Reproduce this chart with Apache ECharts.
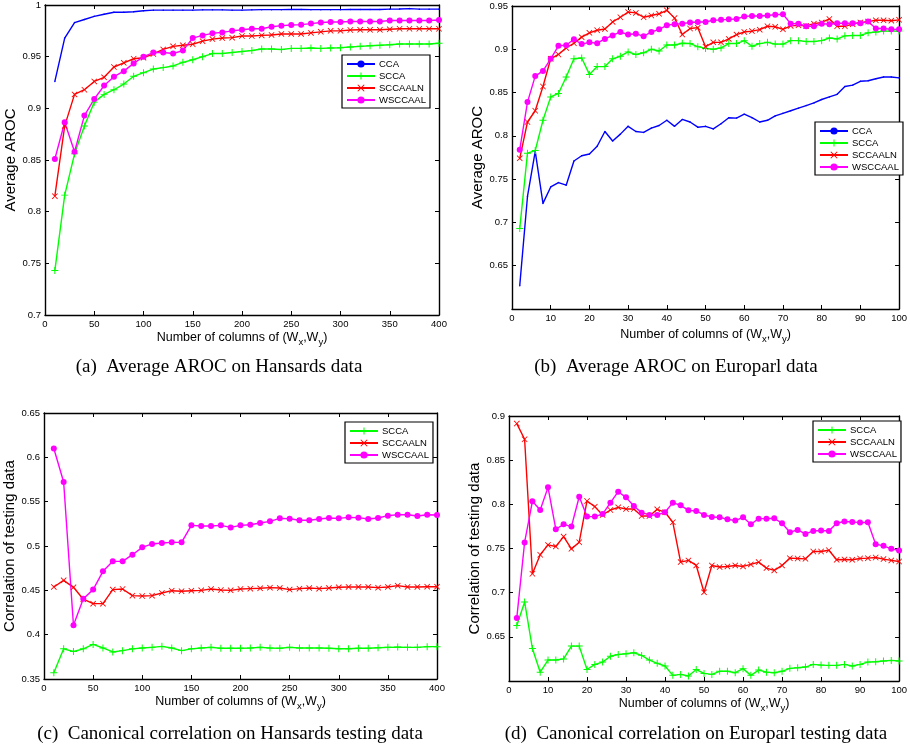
<!DOCTYPE html>
<html>
<head>
<meta charset="UTF-8">
<script src="https://cdn.jsdelivr.net/npm/echarts@6/dist/echarts.min.js"></script>
<style>
  html, body { margin: 0; padding: 0; background: #fff; }
  #c { width: 910px; height: 749px; }
</style>
</head>
<body>
<div id="c"></div>
<script>
// x values
const xHans = [10, 20, 30, 40, 50, 60, 70, 80, 90, 100, 110, 120, 130, 140, 150, 160, 170, 180, 190, 200,
  210, 220, 230, 240, 250, 260, 270, 280, 290, 300, 310, 320, 330, 340, 350, 360, 370, 380, 390, 400];
const xEuro = [2, 4, 6, 8, 10, 12, 14, 16, 18, 20, 22, 24, 26, 28, 30, 32, 34, 36, 38, 40,
  42, 44, 46, 48, 50, 52, 54, 56, 58, 60, 62, 64, 66, 68, 70, 72, 74, 76, 78, 80,
  82, 84, 86, 88, 90, 92, 94, 96, 98, 100];

// (a) Average AROC, Hansards
const hansCCA = [0.926, 0.968, 0.983, 0.986, 0.989, 0.991, 0.993, 0.993, 0.9935, 0.9945,
  0.995, 0.995, 0.995, 0.995, 0.995, 0.9953, 0.9953, 0.9953, 0.995, 0.995,
  0.9953, 0.9955, 0.9955, 0.9955, 0.9957, 0.9957, 0.9955, 0.9955, 0.9955, 0.9955,
  0.9957, 0.9957, 0.9957, 0.9957, 0.996, 0.9962, 0.9965, 0.996, 0.996, 0.996];
const hansSCCA = [0.743, 0.816, 0.856, 0.883, 0.906, 0.9135, 0.918, 0.9235, 0.931, 0.9345,
  0.938, 0.9394, 0.941, 0.9445, 0.947, 0.950, 0.953, 0.953, 0.954, 0.955,
  0.956, 0.9574, 0.9574, 0.957, 0.958, 0.958, 0.9584, 0.958, 0.9584, 0.9587,
  0.9594, 0.960, 0.9606, 0.961, 0.9616, 0.9623, 0.9623, 0.9623, 0.9623, 0.963];
const hansALN = [0.815, 0.883, 0.9135, 0.918, 0.926, 0.930, 0.940, 0.944, 0.948, 0.949,
  0.9526, 0.957, 0.960, 0.961, 0.962, 0.965, 0.967, 0.968, 0.9684, 0.970,
  0.970, 0.9706, 0.971, 0.972, 0.972, 0.972, 0.973, 0.974, 0.975, 0.975,
  0.9758, 0.976, 0.976, 0.976, 0.9765, 0.977, 0.977, 0.977, 0.977, 0.977];
const hansW = [0.851, 0.8865, 0.858, 0.893, 0.909, 0.922, 0.9306, 0.936, 0.9435, 0.950,
  0.954, 0.954, 0.953, 0.956, 0.968, 0.9706, 0.9726, 0.9735, 0.975, 0.976,
  0.977, 0.977, 0.979, 0.980, 0.9806, 0.981, 0.982, 0.983, 0.9835, 0.9835,
  0.984, 0.984, 0.984, 0.984, 0.985, 0.985, 0.985, 0.985, 0.985, 0.9855];

// (b) Average AROC, Europarl
const euroCCA = [0.627, 0.730, 0.782, 0.722, 0.741, 0.746, 0.743, 0.771, 0.777, 0.779,
  0.788, 0.805, 0.794, 0.802, 0.811, 0.805, 0.804, 0.809, 0.812, 0.818,
  0.811, 0.819, 0.816, 0.810, 0.811, 0.808, 0.814, 0.821, 0.8205, 0.825,
  0.821, 0.816, 0.818, 0.823, 0.826, 0.829, 0.832, 0.835, 0.838, 0.842,
  0.845, 0.848, 0.857, 0.8586, 0.863, 0.8636, 0.866, 0.868, 0.868, 0.867];
const euroSCCA = [0.693, 0.780, 0.783, 0.818, 0.845, 0.849, 0.868, 0.889, 0.890, 0.871,
  0.880, 0.880, 0.889, 0.892, 0.897, 0.894, 0.896, 0.900, 0.898, 0.905,
  0.905, 0.907, 0.9066, 0.903, 0.901, 0.900, 0.9016, 0.9066, 0.9066, 0.910,
  0.9035, 0.9066, 0.908, 0.906, 0.906, 0.910, 0.910, 0.909, 0.909, 0.910,
  0.913, 0.912, 0.9155, 0.916, 0.916, 0.919, 0.920, 0.921, 0.921, 0.921];
const euroALN = [0.774, 0.816, 0.829, 0.857, 0.889, 0.894, 0.9016, 0.907, 0.914, 0.919,
  0.922, 0.9235, 0.9316, 0.937, 0.943, 0.942, 0.937, 0.939, 0.941, 0.945,
  0.936, 0.917, 0.924, 0.925, 0.903, 0.908, 0.908, 0.912, 0.917, 0.920,
  0.921, 0.9227, 0.9266, 0.926, 0.923, 0.927, 0.9277, 0.927, 0.9296, 0.931,
  0.935, 0.9266, 0.9266, 0.929, 0.931, 0.932, 0.9335, 0.9335, 0.933, 0.934];
const euroW = [0.784, 0.839, 0.869, 0.875, 0.889, 0.904, 0.9047, 0.9116, 0.906, 0.908,
  0.907, 0.912, 0.916, 0.920, 0.917, 0.918, 0.915, 0.920, 0.923, 0.9277,
  0.929, 0.9296, 0.931, 0.9316, 0.9316, 0.9335, 0.934, 0.9346, 0.935, 0.938,
  0.9385, 0.9385, 0.939, 0.940, 0.9404, 0.9296, 0.9296, 0.9266, 0.9266, 0.9296,
  0.929, 0.930, 0.930, 0.930, 0.930, 0.932, 0.924, 0.924, 0.923, 0.923];

// (c) correlation of testing data, Hansards
const hansTestSCCA = [0.357, 0.384, 0.381, 0.384, 0.389, 0.385, 0.3805, 0.382, 0.384, 0.385,
  0.3857, 0.3868, 0.385, 0.382, 0.384, 0.385, 0.3857, 0.3846, 0.3846, 0.3846,
  0.385, 0.3857, 0.385, 0.3846, 0.3857, 0.385, 0.385, 0.385, 0.3846, 0.3842,
  0.3842, 0.3846, 0.3846, 0.3853, 0.3857, 0.386, 0.3857, 0.3857, 0.3865, 0.3865];
const hansTestALN = [0.4538, 0.4613, 0.4534, 0.440, 0.435, 0.435, 0.4508, 0.4515, 0.444, 0.4436,
  0.444, 0.447, 0.4496, 0.449, 0.4496, 0.450, 0.4515, 0.4504, 0.450, 0.4515,
  0.4519, 0.4523, 0.453, 0.4526, 0.4508, 0.4519, 0.4526, 0.4519, 0.4526, 0.4534,
  0.4538, 0.4538, 0.4538, 0.453, 0.4538, 0.4553, 0.4538, 0.4538, 0.4541, 0.4541];
const hansTestW = [0.610, 0.5722, 0.4105, 0.4406, 0.4508, 0.4714, 0.4827, 0.4827, 0.4902, 0.4985,
  0.5023, 0.5034, 0.5041, 0.5041, 0.5233, 0.5226, 0.5226, 0.5233, 0.521, 0.5233,
  0.524, 0.526, 0.5278, 0.5312, 0.5308, 0.529, 0.529, 0.5305, 0.5316, 0.5312,
  0.5323, 0.532, 0.5305, 0.5316, 0.5342, 0.5353, 0.5353, 0.5338, 0.5353, 0.535];

// (d) correlation of testing data, Europarl
const euroTestSCCA = [0.6628, 0.6895, 0.6368, 0.610, 0.6237, 0.6237, 0.625, 0.6395, 0.6395, 0.613,
  0.6188, 0.6214, 0.628, 0.630, 0.6308, 0.632, 0.629, 0.6237, 0.620, 0.617,
  0.6064, 0.6075, 0.6056, 0.613, 0.6086, 0.6075, 0.611, 0.611, 0.6094, 0.614,
  0.6064, 0.6124, 0.610, 0.6094, 0.611, 0.6143, 0.615, 0.6158, 0.6188, 0.618,
  0.6177, 0.6177, 0.6188, 0.617, 0.6188, 0.6214, 0.6218, 0.6226, 0.6233, 0.6226];
const euroTestALN = [0.8914, 0.8737, 0.7214, 0.7429, 0.7541, 0.7523, 0.7635, 0.7496, 0.7571, 0.8038,
  0.7974, 0.788, 0.7936, 0.7966, 0.7947, 0.7947, 0.7868, 0.7868, 0.7944, 0.791,
  0.7797, 0.7346, 0.7365, 0.7308, 0.7004, 0.7308, 0.729, 0.7297, 0.7308, 0.7297,
  0.732, 0.7346, 0.7278, 0.7252, 0.7308, 0.7391, 0.7387, 0.7383, 0.7466, 0.7466,
  0.748, 0.7372, 0.7376, 0.7372, 0.7387, 0.7391, 0.7398, 0.738, 0.7365, 0.7353];
const euroTestW = [0.6714, 0.7568, 0.8034, 0.7936, 0.8192, 0.7718, 0.7774, 0.7748, 0.8086, 0.7861,
  0.7861, 0.789, 0.8019, 0.8143, 0.8079, 0.7981, 0.7906, 0.788, 0.788, 0.791,
  0.8019, 0.7989, 0.7932, 0.7925, 0.788, 0.7857, 0.7853, 0.7831, 0.7816, 0.7853,
  0.7774, 0.7838, 0.7838, 0.7842, 0.7786, 0.7684, 0.771, 0.7665, 0.7699, 0.7703,
  0.7699, 0.7786, 0.7805, 0.7801, 0.7793, 0.7797, 0.7549, 0.753, 0.7496, 0.7477];

const captions = [
  '(a)\u00a0 Average AROC on Hansards data',
  '(b)\u00a0 Average AROC on Europarl data',
  '(c)\u00a0 Canonical correlation on Hansards testing data',
  '(d)\u00a0 Canonical correlation on Europarl testing data'
];

const SANS = 'Liberation Sans';
const SERIF = 'Liberation Serif';

// matlab-ish markers
const PLUS = 'path://M4.3,0H5.7V4.3H10V5.7H5.7V10H4.3V5.7H0V4.3H4.3Z';
const CROSS = 'path://M0,1L1,0L5,4L9,0L10,1L6,5L10,9L9,10L5,6L1,10L0,9L4,5Z';

const styles = {
  CCA: { color: '#0000ff', symbol: 'circle', symbolSize: 1.5 },
  SCCA: { color: '#00ff00', symbol: PLUS, symbolSize: 7 },
  SCCAALN: { color: '#ff0000', symbol: CROSS, symbolSize: 6 },
  WSCCAAL: { color: '#ff00ff', symbol: 'circle', symbolSize: 6 }
};

const panels = [
  { grid: { left: 45, top: 5, width: 394, height: 310 }, x: xHans, xMax: 400, xInt: 50,
    yMin: 0.7, yMax: 1, yInt: 0.05, hideMin: false, yName: 'Average AROC', yGap: 22, xGap: 13,
    lines: [['CCA', hansCCA], ['SCCA', hansSCCA], ['SCCAALN', hansALN], ['WSCCAAL', hansW]],
    legend: { left: 342, top: 55 }, cap: { x: 214, y: 353 } },
  { grid: { left: 512, top: 6, width: 396, height: 303 }, x: xEuro, xMax: 100, xInt: 10,
    yMin: 0.6, yMax: 0.95, yInt: 0.05, hideMin: true, yName: 'Average AROC', yGap: 23, xGap: 16,
    lines: [['CCA', euroCCA], ['SCCA', euroSCCA], ['SCCAALN', euroALN], ['WSCCAAL', euroW]],
    legend: { left: 815, top: 122 }, cap: { x: 671, y: 353 } },
  { grid: { left: 44, top: 413, width: 393, height: 266 }, x: xHans, xMax: 400, xInt: 50,
    yMin: 0.35, yMax: 0.65, yInt: 0.05, hideMin: false, yName: 'Correlation of testing data', yGap: 22, xGap: 13,
    lines: [['SCCA', hansTestSCCA], ['SCCAALN', hansTestALN], ['WSCCAAL', hansTestW]],
    legend: { left: 345, top: 422 }, cap: { x: 225, y: 720 } },
  { grid: { left: 509, top: 416, width: 394, height: 265 }, x: xEuro, xMax: 100, xInt: 10,
    yMin: 0.6, yMax: 0.9, yInt: 0.05, hideMin: true, yName: 'Correlation of testing data', yGap: 21, xGap: 13,
    lines: [['SCCA', euroTestSCCA], ['SCCAALN', euroTestALN], ['WSCCAAL', euroTestW]],
    legend: { left: 813, top: 421 }, cap: { x: 691, y: 720 } }
];

const axisLine = { onZero: false, lineStyle: { color: '#000', width: 1.4 } };
const axisTick = { inside: true, length: 4, lineStyle: { color: '#000', width: 1 } };
const labelStyle = { color: '#000', fontSize: 9.5, fontFamily: SANS };

const grid = [], xAxis = [], yAxis = [], series = [], legend = [], title = [];

panels.forEach((p, i) => {
  grid.push(Object.assign({ containLabel: false }, p.grid));

  xAxis.push({
    gridIndex: i, type: 'value', position: 'bottom', min: 0, max: p.xMax, interval: p.xInt,
    axisLine, axisTick, splitLine: { show: false },
    axisLabel: Object.assign({ margin: 4 }, labelStyle),
    name: 'Number of columns of (W{sub|x},W{sub|y})',
    nameLocation: 'middle', nameGap: p.xGap,
    nameTextStyle: {
      color: '#000', fontSize: 12.5, fontFamily: SANS, verticalAlign: 'top',
      rich: { sub: { fontSize: 9.5, fontFamily: SANS, color: '#000', verticalAlign: 'bottom', lineHeight: 19 } }
    }
  });
  xAxis.push({
    gridIndex: i, type: 'value', position: 'top', min: 0, max: p.xMax, interval: p.xInt,
    axisLine, axisTick, splitLine: { show: false }, axisLabel: { show: false }
  });

  yAxis.push({
    gridIndex: i, type: 'value', position: 'left', min: p.yMin, max: p.yMax, interval: p.yInt,
    axisLine, axisTick, splitLine: { show: false },
    axisLabel: Object.assign({ margin: 4, showMinLabel: !p.hideMin, formatter: v => String(+v.toFixed(2)) }, labelStyle),
    name: p.yName, nameLocation: 'middle', nameGap: p.yGap,
    nameTextStyle: { color: '#000', fontSize: 15, fontFamily: SANS, verticalAlign: 'bottom' }
  });
  yAxis.push({
    gridIndex: i, type: 'value', position: 'right', min: p.yMin, max: p.yMax, interval: p.yInt,
    axisLine, axisTick, splitLine: { show: false }, axisLabel: { show: false }
  });

  p.lines.forEach(([name, vals]) => {
    const s = styles[name];
    series.push({
      name, type: 'line', xAxisIndex: 2 * i, yAxisIndex: 2 * i,
      data: p.x.map((x, k) => [x, vals[k]]),
      symbol: s.symbol, symbolSize: s.symbolSize, showSymbol: true,
      lineStyle: { color: s.color, width: 1.4 },
      itemStyle: { color: s.color },
      emphasis: { disabled: true },
      animation: false
    });
  });

  legend.push({
    orient: 'vertical', left: p.legend.left, top: p.legend.top,
    data: p.lines.map(l => l[0]),
    itemWidth: 28, itemHeight: 9, itemGap: 2,
    padding: [4, 4, 3, 4],
    borderColor: '#000', borderWidth: 1.2, backgroundColor: '#fff',
    textStyle: { color: '#000', fontSize: 9.5, fontFamily: SANS, padding: [0, 0, 0, -1] },
    selectedMode: false
  });

  // captions centered under each panel
  title.push({
    text: captions[i], left: p.cap.x, top: p.cap.y, textAlign: 'center',
    textStyle: { color: '#000', fontSize: 19, fontWeight: 'normal', fontFamily: SERIF }
  });
});

const chart = echarts.init(document.getElementById('c'), null, { renderer: 'canvas' });
chart.setOption({
  backgroundColor: '#fff',
  animation: false,
  title, grid, xAxis, yAxis, legend, series
});
</script>
</body>
</html>
